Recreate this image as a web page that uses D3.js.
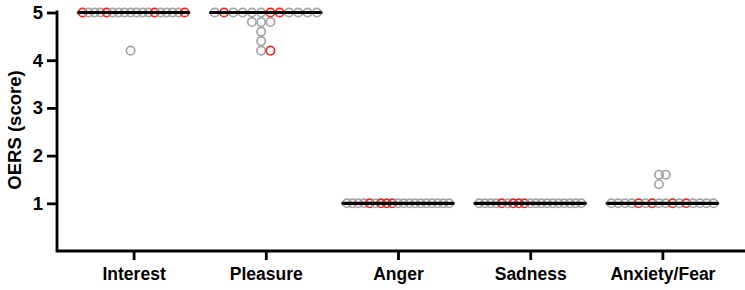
<!DOCTYPE html>
<html>
<head>
<meta charset="utf-8">
<script src="https://cdn.jsdelivr.net/npm/d3@7/dist/d3.min.js"></script>
<style>
  body { margin: 0; background: #fff; }
  text { font-family: "Liberation Sans", Arial, sans-serif; font-weight: bold; }
</style>
</head>
<body>
<div id="chart"></div>
<script>
// scores per participant, in left-to-right order within each row
var categories = ["Interest", "Pleasure", "Anger", "Sadness", "Anxiety/Fear"];
var interest = [5,5,5,5,5,5,5,5,5,5,5,5,5,5,5,5,5,5, 4.2];
var pleasure = [5,5,5,5,5,5,5,5,5,5,5,5, 4.8,4.8,4.8, 4.6, 4.4, 4.2,4.2];
var anger    = [1,1,1,1,1,1,1,1,1,1,1,1,1,1,1,1,1,1,1];
var sadness  = [1,1,1,1,1,1,1,1,1,1,1,1,1,1,1,1,1,1,1];
var anxiety  = [1,1,1,1,1,1,1,1,1,1,1,1,1,1,1,1, 1.4, 1.6,1.6];
// participants drawn in red (index into the arrays above)
var interestRed = [0, 4, 12, 17];
var pleasureRed = [1, 6, 7, 18];
var angerRed    = [4, 6, 7, 8];
var sadnessRed  = [4, 6, 7, 8];
var anxietyRed  = [4, 6, 9, 11];
var yTicks = [1, 2, 3, 4, 5];

var series = [interest, pleasure, anger, sadness, anxiety];
var reds = [interestRed, pleasureRed, angerRed, sadnessRed, anxietyRed];

var width = 745, height = 290;
var svg = d3.select("#chart").append("svg")
    .attr("width", width)
    .attr("height", height);

var x = d3.scalePoint()
    .domain(categories)
    .range([67.5, 728.5])
    .padding(0.5);

var y = d3.scaleLinear()
    .domain([0, 5])
    .range([251, 12.5]);

var spread = 102;   // distance between outer dot centres of the widest row
var r = 4.2;

// axes
var yAxis = svg.append("g")
    .attr("transform", "translate(57,0)")
    .call(d3.axisLeft(y).tickValues(yTicks).tickSize(10).tickPadding(4).tickFormat(d3.format("d")));
yAxis.select(".domain").remove();
yAxis.selectAll(".tick line").attr("stroke", "#000").attr("stroke-width", 2.8);
yAxis.selectAll(".tick text").attr("font-size", 18.5).attr("fill", "#000");

var xAxis = svg.append("g")
    .attr("transform", "translate(0,251)")
    .call(d3.axisBottom(x).tickSize(9).tickPadding(8));
xAxis.select(".domain").remove();
xAxis.selectAll(".tick line").attr("stroke", "#000").attr("stroke-width", 2.8);
xAxis.selectAll(".tick text").attr("font-size", 17.5).attr("fill", "#000");

svg.append("path")
    .attr("d", "M57,10.5V251H745")
    .attr("fill", "none")
    .attr("stroke", "#000")
    .attr("stroke-width", 2.8);

svg.append("text")
    .attr("transform", "translate(21,130) rotate(-90)")
    .attr("text-anchor", "middle")
    .attr("font-size", 18.5)
    .text("OERS (score)");

// dot positions, Prism-like: rows of equal value spread on a shared grid
var dots = [];
series.forEach(function(vals, ci) {
  var rows = d3.group(vals.map(function(v, i) { return {v: v, i: i}; }), function(d) { return d.v; });
  var nmax = d3.max(Array.from(rows.values()), function(g) { return g.length; });
  var step = spread / (nmax - 1);
  var cx = x(categories[ci]);
  rows.forEach(function(g) {
    var n = g.length;
    var shift = ((nmax - n) % 2 === 1) ? -step / 2 : 0;
    g.forEach(function(d, k) {
      dots.push({
        x: cx + (k - (n - 1) / 2) * step + shift,
        y: y(d.v),
        red: reds[ci].indexOf(d.i) >= 0
      });
    });
  });
});

svg.selectAll("circle")
  .data(dots)
  .enter()
  .append("circle")
  .attr("cx", function(d) { return d.x; })
  .attr("cy", function(d) { return d.y; })
  .attr("r", r)
  .attr("fill", "none")
  .attr("stroke", function(d) { return d.red ? "#f02828" : "#a3a3a3"; })
  .attr("stroke-width", 1.7);

// median lines
svg.selectAll("line.median")
  .data(series)
  .enter()
  .append("line")
  .attr("class", "median")
  .attr("x1", function(d, i) { return x(categories[i]) - (spread + 2 * r) / 2; })
  .attr("x2", function(d, i) { return x(categories[i]) + (spread + 2 * r) / 2; })
  .attr("y1", function(d) { return y(d3.median(d)); })
  .attr("y2", function(d) { return y(d3.median(d)); })
  .attr("stroke", "#000")
  .attr("stroke-width", 3.2)
  .attr("stroke-linecap", "round");
</script>
</body>
</html>
